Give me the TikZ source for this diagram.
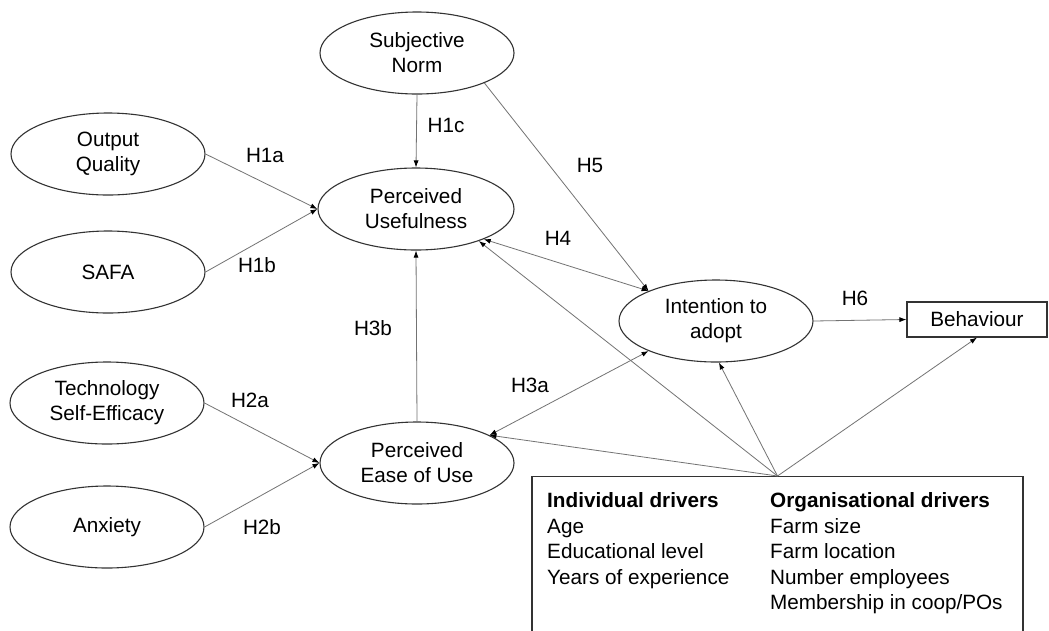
\documentclass[tikz,border=0pt]{standalone}
\usepackage{fontspec}
\setmainfont{Liberation Sans}
\usetikzlibrary{arrows.meta,shapes.geometric}
\begin{document}
\begin{tikzpicture}[x=1pt,y=-1pt,
  every node/.style={font=\fontsize{20.7}{25}\selectfont},
  construct/.style={ellipse,draw=black!80,line width=1.1pt,minimum width=194pt,minimum height=82pt,inner sep=0pt,align=center},
  boxnode/.style={rectangle,draw=black!80,line width=1.1pt,inner sep=0pt},
  tip/.style={},
  link/.style={draw=black!55,line width=0.8pt,-{Latex[length=7pt,width=5pt,color=black]}},
  dlink/.style={draw=black!55,line width=0.8pt,{Latex[length=7pt,width=5pt,color=black]}-{Latex[length=7pt,width=5pt,color=black]}},
  hlabel/.style={inner sep=0pt},
  drvtext/.style={anchor=base west,inner sep=0pt}]
\fill[white] (0,0) rectangle (1049,630);
\clip (0,0) rectangle (1049,630);

% constructs
\node[construct] (sn) at (417,53) {Subjective\\Norm};
\node[construct] (oq) at (108,154) {Output\\Quality};
\node[construct] (safa) at (108,272) {SAFA};
\node[construct,minimum width=196pt] (pu) at (416,209) {Perceived\\Usefulness};
\node[construct] (tse) at (107,403) {Technology\\Self-Efficacy};
\node[construct] (anx) at (107,527) {Anxiety};
\node[construct] (peou) at (417,463) {Perceived\\Ease of Use};
\node[construct] (ita) at (716,321) {Intention to\\adopt};
\node[boxnode,minimum width=140pt,minimum height=35pt] (beh) at (977,319.5) {Behaviour};
\node[boxnode,minimum width=491pt,minimum height=200pt,anchor=north] (drv) at (777.5,476) {};

% drivers text
\node[drvtext] (d1) at (547,507) {\bfseries Individual drivers};
\node[drvtext] (d2) at (547,533) {Age};
\node[drvtext] (d3) at (547,558) {Educational level};
\node[drvtext] (d4) at (547,584) {Years of experience};
\node[drvtext] (o1) at (770,507) {\bfseries Organisational drivers};
\node[drvtext] (o2) at (770,533) {Farm size};
\node[drvtext] (o3) at (770,558) {Farm location};
\node[drvtext] (o4) at (770,584) {Number employees};
\node[drvtext] (o5) at (770,609) {Membership in coop/POs};

% connectors
\draw[link] (sn.south) -- (pu.north);
\draw[link] (oq.east) -- (pu.west);
\draw[link] (safa.east) -- (pu.west);
\draw[link] (tse.east) -- (peou.west);
\draw[link] (anx.east) -- (peou.west);
\draw[link] (peou.north) -- (pu.south);
\draw[dlink] (peou.21) -- (ita.204);
\draw[dlink] (pu.-24) -- (ita.156);
\draw[link] (sn.-24) -- (ita.156);
\draw[link] (ita.east) -- (beh.west);
\draw[link] (drv.north) -- (pu.-27);
\draw[link] (drv.north) -- (ita.-86);
\draw[link] (drv.north) -- (peou.21);
\draw[link] (drv.north) -- (beh.south);

% labels
\node[hlabel] (lh1c) at (446,125) {H1c};
\node[hlabel] (lh1a) at (265,155) {H1a};
\node[hlabel] (lh1b) at (257,265) {H1b};
\node[hlabel] (lh2a) at (250,400) {H2a};
\node[hlabel] (lh2b) at (262,527) {H2b};
\node[hlabel] (lh3b) at (373,328) {H3b};
\node[hlabel] (lh3a) at (530,385) {H3a};
\node[hlabel] (lh4) at (558,238) {H4};
\node[hlabel] (lh5) at (590,165) {H5};
\node[hlabel] (lh6) at (855,298) {H6};
\end{tikzpicture}
\end{document}
